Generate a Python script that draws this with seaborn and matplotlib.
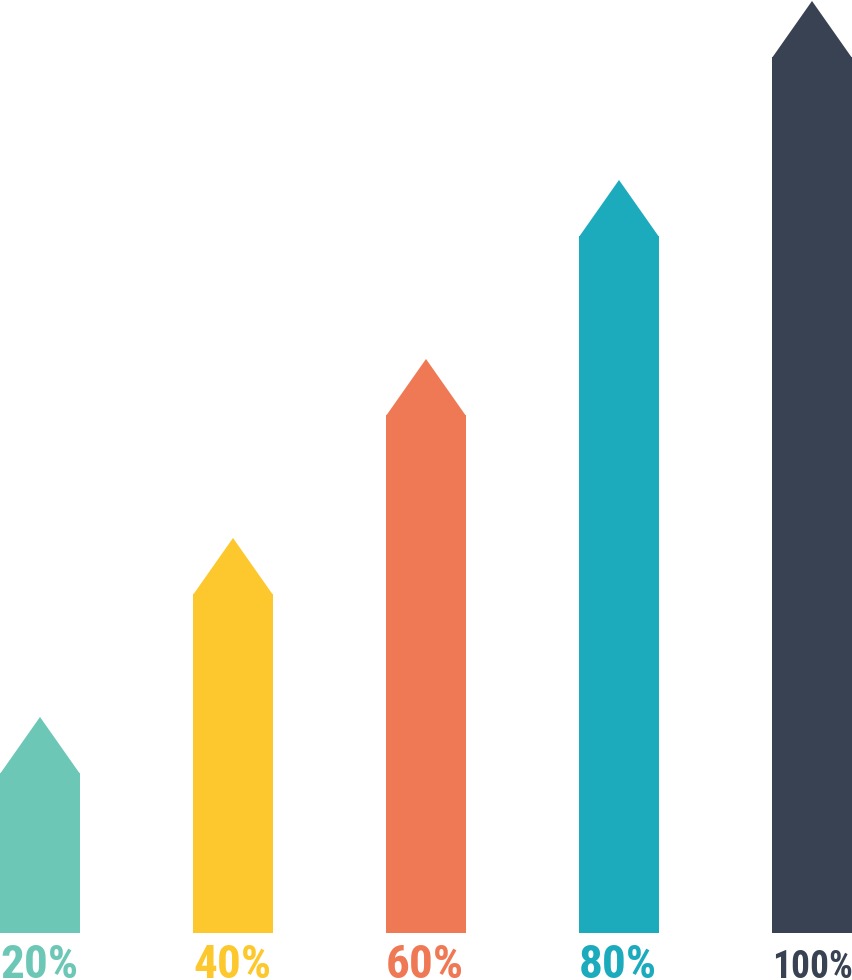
import matplotlib
matplotlib.use("Agg")
import matplotlib.pyplot as plt
import pandas as pd
import seaborn as sns
from matplotlib.patches import Polygon

labels = ["20%", "40%", "60%", "80%", "100%"]
values = [20, 40, 60, 80, 100]
colors = ["#6DC7B6", "#FDC82E", "#F07955", "#1CABBC", "#394252"]
label_sizes = [34, 34, 34, 34, 27]

df = pd.DataFrame({"label": labels, "value": values})

sns.set_style("white")
plt.rcParams["font.family"] = ["Roboto Condensed", "DejaVu Sans"]

fig = plt.figure(figsize=(8.53, 9.80), dpi=100)
ax = fig.add_axes([0, 47 / 980, 1, 933 / 980])

sns.barplot(data=df, x="label", y="value", hue="label", palette=colors,
            width=0.4145, saturation=1, legend=False, ax=ax,
            linewidth=0, edgecolor="none")

# arrow heads on top of each bar
head = 6.26
for bar, c in zip(ax.patches, colors):
    x0 = bar.get_x()
    w = bar.get_width()
    top = bar.get_height()
    tri = Polygon([(x0, top - 0.1), (x0 + w / 2, top + head), (x0 + w, top - 0.1)],
                  closed=True, facecolor=c, edgecolor="none", linewidth=0,
                  clip_on=False)
    ax.add_patch(tri)

# labels under the bars, left aligned with the bars
for bar, lab, c, s in zip(ax.patches, labels, colors, label_sizes):
    ax.text(bar.get_x(), -2.95, lab, color=c, fontsize=s, fontweight="bold",
            ha="left", va="baseline", clip_on=False)

ax.set_xlim(-40 / 193, 813 / 193)
ax.set_ylim(19 / 8.95, 952 / 8.95)
ax.axis("off")

fig.savefig("out.png", dpi=100)
